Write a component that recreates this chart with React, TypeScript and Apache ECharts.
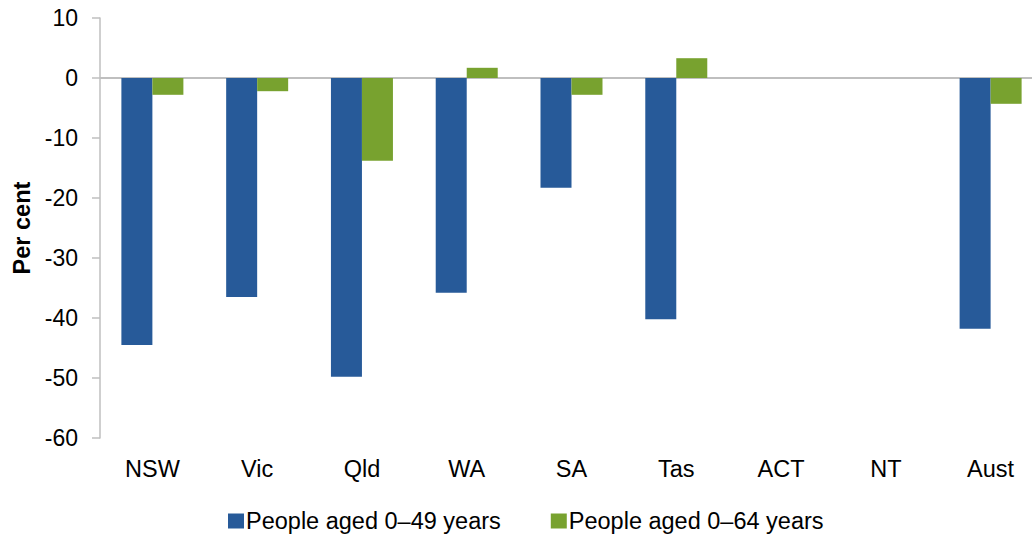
import React, { useEffect, useRef } from "react";
import * as echarts from "echarts";

const categories = ["NSW", "Vic", "Qld", "WA", "SA", "Tas", "ACT", "NT", "Aust"];
const seriesNames = ["People aged 0\u201349 years", "People aged 0\u201364 years"];
const aged049 = [-44.5, -36.5, -49.8, -35.8, -18.3, -40.2, null, null, -41.8];
const aged064 = [-2.8, -2.2, -13.8, 1.7, -2.8, 3.3, null, null, -4.3];
const yTicks = { min: -60, max: 10, interval: 10 };

export default function App() {
  const ref = useRef<HTMLDivElement>(null);
  useEffect(() => {
    if (!ref.current) return;
    const chart = echarts.init(ref.current, undefined, { renderer: "svg" });
    const font = "Liberation Sans, Arial, sans-serif";
    chart.setOption({
      animation: false,
      textStyle: { fontFamily: font },
      grid: { left: 100, top: 18, height: 420, width: 943 },
      legend: {
        top: 504,
        left: 223,
        itemWidth: 16,
        itemHeight: 15,
        itemGap: 50,
        icon: "rect",
        textStyle: { fontSize: 23.5, color: "#000", fontFamily: font, padding: [0, 0, 0, -3] },
        data: seriesNames,
      },
      xAxis: {
        type: "category",
        data: categories,
        axisLine: { show: false, onZero: false },
        axisTick: { show: false },
        axisLabel: { fontSize: 23.5, color: "#000", margin: 19, fontFamily: font },
      },
      yAxis: {
        type: "value",
        min: yTicks.min,
        max: yTicks.max,
        interval: yTicks.interval,
        name: "Per cent",
        nameLocation: "middle",
        nameGap: 66,
        nameTextStyle: { fontSize: 23.5, fontWeight: "bold", color: "#000", fontFamily: font },
        axisLine: { show: true, lineStyle: { color: "#BFBFBF", width: 1.5 } },
        axisTick: { show: true, length: 8, lineStyle: { color: "#BFBFBF", width: 1.5 } },
        axisLabel: { fontSize: 23, color: "#000", margin: 22, fontFamily: font },
        splitLine: { show: false },
      },
      series: [
        {
          name: seriesNames[0],
          type: "bar",
          data: aged049,
          barWidth: 31,
          barGap: "0%",
          itemStyle: { color: "#275A99" },
          markLine: {
            silent: true,
            symbol: "none",
            label: { show: false },
            lineStyle: { color: "#BFBFBF", width: 2, type: "solid" },
            data: [{ yAxis: 0 }],
            z: 1,
          },
        },
        {
          name: seriesNames[1],
          type: "bar",
          data: aged064,
          barWidth: 31,
          barGap: "0%",
          itemStyle: { color: "#78A22F" },
        },
      ],
    });
    return () => chart.dispose();
  }, []);
  return (
    <div style={{ position: "fixed", left: 0, top: 0, width: 1032, height: 535, overflow: "hidden", background: "#fff" }}>
      <div ref={ref} style={{ width: 1050, height: 535 }} />
    </div>
  );
}
